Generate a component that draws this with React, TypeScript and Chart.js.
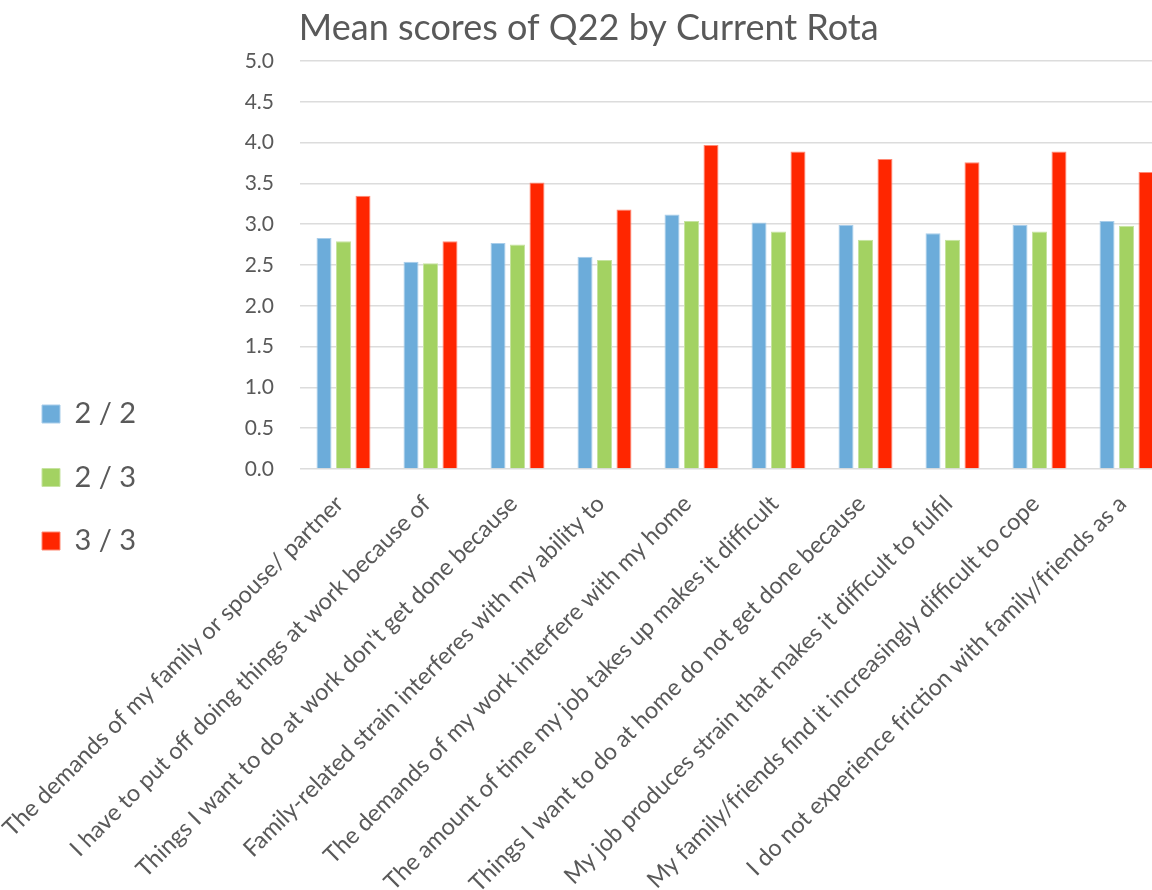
import React, { useEffect, useRef } from "react";
import { Chart, registerables } from "chart.js";

Chart.register(...registerables);

const categories: string[] = [
  "The demands of my family or spouse/ partner",
  "I have to put off doing things at work because of",
  "Things I want to do at work don't get done because",
  "Family-related strain interferes with my ability to",
  "The demands of my work interfere with my home",
  "The amount of time my job takes up makes it difficult",
  "Things I want to do at home do not get done because",
  "My job produces strain that makes it difficult to fulfil",
  "My family/friends find it increasingly difficult to cope",
  "I do not experience friction with family/friends as a",
];

const seriesLabels: string[] = ["2 / 2", "2 / 3", "3 / 3"];
const rota22: number[] = [2.83, 2.54, 2.77, 2.6, 3.12, 3.02, 2.99, 2.89, 2.99, 3.04];
const rota23: number[] = [2.79, 2.52, 2.75, 2.56, 3.04, 2.91, 2.81, 2.81, 2.91, 2.98];
const rota33: number[] = [3.35, 2.79, 3.51, 3.18, 3.97, 3.89, 3.8, 3.76, 3.89, 3.64];
const seriesColors: string[] = ["#6CACDA", "#A3D262", "#FF2600"];
const seriesBorders: string[] = ["#A8CDEA", "#C6E3A0", "#FF8A75"];

const titleText = "Mean scores of Q22 by Current Rota";
const textColor = "#595959";
const FONT = "Lato, 'Open Sans', sans-serif";

const CANVAS_LEFT = -60;
const CANVAS_W = 1230;
const CANVAS_H = 890;
const LEGEND_FONT = 29;
const LEGEND_PAD = 34.5;
const PAD_LEFT = 67.5;
const AREA_LEFT = 360;

export default function App() {
  const ref = useRef<HTMLCanvasElement | null>(null);

  useEffect(() => {
    if (!ref.current) return;
    const values = [rota22, rota23, rota33];
    const chart = new Chart(ref.current, {
      type: "bar",
      data: {
        labels: categories,
        datasets: seriesLabels.map((label, i) => ({
          label,
          data: values[i],
          backgroundColor: seriesColors[i],
          borderColor: seriesBorders[i],
          borderWidth: 1,
          categoryPercentage: 0.672,
          barPercentage: 0.77,
        })),
      },
      options: {
        responsive: false,
        animation: false,
        devicePixelRatio: 1,
        layout: { padding: { left: PAD_LEFT, right: 0, top: 0, bottom: 0 } },
        plugins: {
          tooltip: { enabled: false },
          title: {
            display: true,
            text: titleText,
            color: textColor,
            font: { family: FONT, size: 36, weight: "normal" },
            padding: { top: 7, bottom: 10.8 },
          },
          legend: {
            display: true,
            position: "left",
            align: "center",
            title: {
              display: true,
              text: "",
              font: { size: 10 },
              padding: { top: 0, bottom: 53 },
            },
            labels: {
              color: textColor,
              font: { family: FONT, size: LEGEND_FONT },
              boxWidth: 18,
              boxHeight: 18,
              padding: LEGEND_PAD,
            },
          },
        },
        scales: {
          x: {
            grid: { display: false, drawTicks: false },
            border: { display: false },
            afterFit: (s: any) => {
              s.height = 421;
            },
            ticks: {
              autoSkip: false,
              minRotation: 45,
              maxRotation: 45,
              labelOffset: -4,
              padding: 21,
              color: textColor,
              font: { family: FONT, size: 23.5 },
            },
          },
          y: {
            min: 0,
            max: 5,
            grid: { color: "#DCDCDC", lineWidth: 1.5, drawTicks: false },
            border: { display: false },
            afterFit: (s: any) => {
              const lw = s.chart.legend ? s.chart.legend.width : 0;
              s.width = AREA_LEFT - PAD_LEFT - lw;
            },
            ticks: {
              stepSize: 0.5,
              padding: 26,
              color: textColor,
              font: { family: FONT, size: 21 },
              callback: (v: any) => Number(v).toFixed(1),
            },
          },
        },
      },
    });
    return () => chart.destroy();
  }, []);

  return (
    <div
      style={{
        position: "fixed",
        left: 0,
        top: 0,
        width: 1152,
        height: 890,
        overflow: "hidden",
        background: "#fff",
      }}
    >
      <canvas
        ref={ref}
        width={CANVAS_W}
        height={CANVAS_H}
        style={{ position: "absolute", left: CANVAS_LEFT, top: 0, width: CANVAS_W, height: CANVAS_H }}
      />
    </div>
  );
}
